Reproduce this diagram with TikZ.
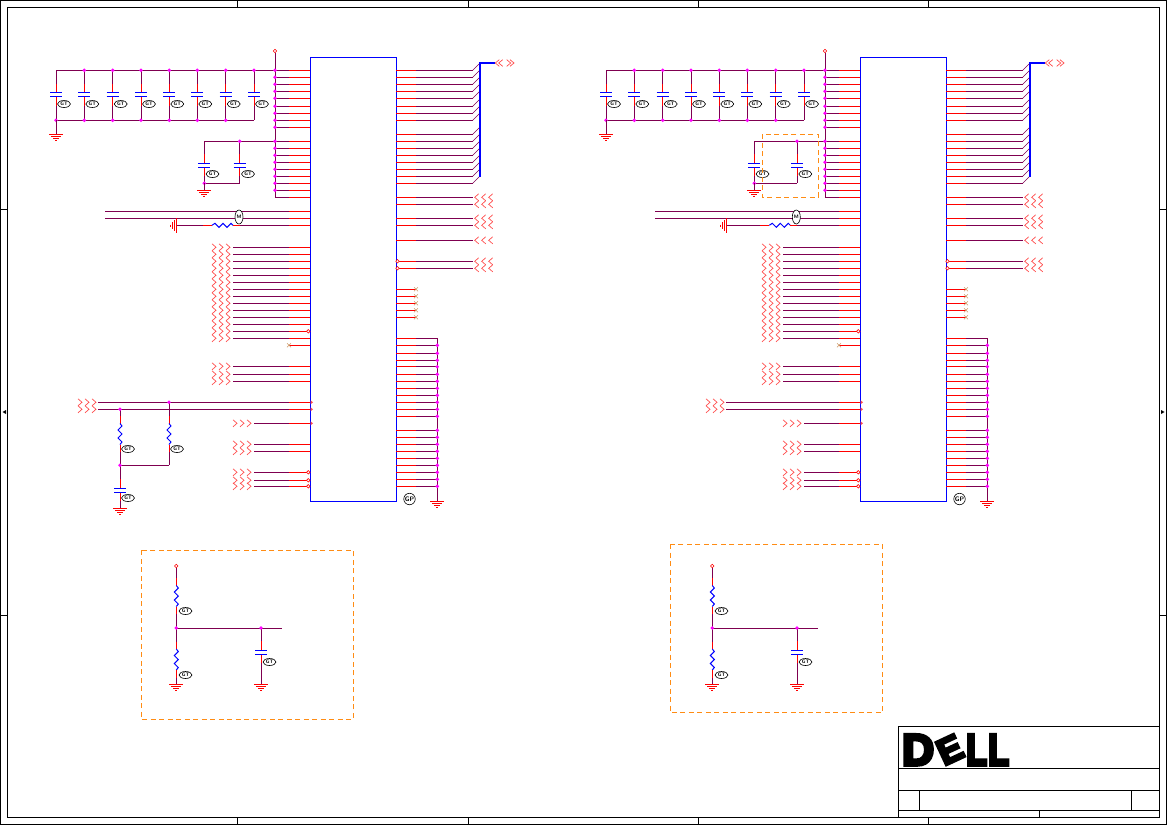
\documentclass[tikz,border=0pt]{standalone}
\usepackage{fontspec}
\newfontfamily\dellfont[FakeBold=8]{Liberation Sans Bold}
\usetikzlibrary{positioning,calc,shapes.geometric}
\definecolor{netPurple}{HTML}{7F0050}
\definecolor{dotPink}{HTML}{FF00FF}
\definecolor{boxOrange}{HTML}{FF8C14}
\tikzset{
        % Wires
        wire/.style={netPurple, line width=1pt},
        stub/.style={red, line width=1pt},
        part/.style={blue, line width=1pt},
        busline/.style={blue, line width=2.2pt},
        chevron/.style={red!70, line width=0.7pt},
        frame/.style={black, line width=1pt},
        % Parts
        chip/.style={rectangle, draw=blue, line width=1pt, inner sep=0pt, outer sep=0pt, minimum width=86pt, minimum height=444pt},
        blob/.style={ellipse, draw=black, fill=white, line width=0.6pt, inner sep=0pt, minimum width=13pt, minimum height=7pt, font=\fontsize{5}{5}\sffamily\bfseries},
        tallblob/.style={blob, minimum width=8pt, minimum height=14pt},
        gpmark/.style={circle, draw=black, fill=white, line width=0.6pt, inner sep=0pt, minimum size=11.5pt, font=\fontsize{6.5}{7}\sffamily\bfseries},
        openpin/.style={circle, draw=red, fill=white, line width=0.6pt, inner sep=0pt, minimum size=3.5pt},
        noconn/.style={draw=brown!80, line width=0.6pt},
        dashbox/.style={boxOrange, line width=1pt, dash pattern=on 5pt off 3.5pt},
        dellletter/.style={inner sep=0pt, font=\fontsize{44}{44}\dellfont},
        dellnarrow/.style={dellletter, xscale=0.78, transform shape},
        delltilt/.style={inner sep=0pt, font=\fontsize{36}{36}\dellfont, rotate=25}
}
% pin dot
\newcommand{\pindot}[2]{\fill[dotPink] (#1,#2) circle (1.9);}
% ground, top centre at x,y
\newcommand{\gnd}[2]{
    \draw[stub] ({#1-7},#2) -- ({#1+7},#2);
    \draw[stub] ({#1-5},{#2+2}) -- ({#1+5},{#2+2});
    \draw[stub] ({#1-3},{#2+4}) -- ({#1+3},{#2+4});
    \draw[stub] ({#1-1},{#2+6}) -- ({#1+1},{#2+6});
}
% capacitor: x, top, middle, bottom
\newcommand{\capv}[4]{
    \draw[wire] (#1,#2) -- (#1,{#3-11});
    \draw[stub] (#1,{#3-11}) -- (#1,{#3-2});
    \draw[stub] (#1,{#3+2}) -- (#1,{#3+11});
    \draw[wire] (#1,{#3+11}) -- (#1,#4);
    \draw[part] ({#1-6},{#3-2}) -- ({#1+6},{#3-2});
    \draw[part] ({#1-6},{#3+2}) -- ({#1+6},{#3+2});
}
% resistor: x, top, middle, bottom
\newcommand{\resv}[4]{
    \draw[wire] (#1,#2) -- (#1,{#3-18});
    \draw[stub] (#1,{#3-18}) -- (#1,{#3-10.5});
    \draw[part] (#1,{#3-10.5}) -- ({#1+2},{#3-8}) -- ({#1-2},{#3-4}) -- ({#1+2},{#3}) -- ({#1-2},{#3+4}) -- ({#1+2},{#3+8}) -- (#1,{#3+10.5});
    \draw[stub] (#1,{#3+10.5}) -- (#1,{#3+18});
    \draw[wire] (#1,{#3+18}) -- (#1,#4);
}
% three chevrons, first x, y, direction (+1 right, -1 left)
\newcommand{\chevs}[3]{
    \foreach \k in {0,1,2} {
        \draw[chevron] ({#1+7*\k-2*#3},{#2-3.5}) -- ({#1+7*\k+2*#3},#2) -- ({#1+7*\k-2*#3},{#2+3.5});
    }
}
% one half of the sheet: prefix, shift of second cap, start of the two long nets
\newcommand{\sheethalf}[3]{
    \node[chip] (#1chip) at (353,279) {};
    % supply rail
    \node[openpin] (#1vcc) at (275,51) {};
    \draw[wire] (#1vcc) -- (275,197.3);
    \foreach \y in {70.3,77.3,84.3,91.3,98.3,106.3,113.3,120.3,127.3,141.3,148.3,155.3,162.3,169.3,176.3,183.3,190.3,197.3} {
        \draw[wire] (275,\y) -- (289,\y);
        \draw[stub] (289,\y) -- (#1chip.west |- 0,\y);
    }
    % decoupling row
    \draw[wire] (56,70.3) -- (275,70.3);
    \draw[wire] (56,120.3) -- (254,120.3);
    \foreach \x in {56,84.3,112.7,141,169.3,197.3,225.7,254} {
        \capv{\x}{70.3}{94.7}{120.3}
        \node[blob] (#1c\x) at ({\x+8},104) {GT};
    }
    \foreach \x in {84.3,112.7,141,169.3,197.3,225.7,254} {
        \pindot{\x}{70.3}
    }
    \foreach \x in {56,84.3,112.7,141,169.3,197.3,225.7} {
        \pindot{\x}{120.3}
    }
    \draw[wire] (56,120.3) -- (56,134);
    \gnd{56}{134}
    % pair of caps
    \draw[wire] (204.3,141.3) -- (275,141.3);
    \draw[wire] (204.3,183.3) -- ({239.7+#2},183.3);
    \capv{204.3}{141.3}{165.3}{183.3}
    \capv{239.7+#2}{141.3}{165.3}{183.3}
    \pindot{239.7+#2}{141.3}
    \pindot{204.3}{183.3}
    \foreach \y in {70.3,77.3,84.3,91.3,98.3,106.3,113.3,120.3,127.3,141.3,148.3,155.3,162.3,169.3,176.3,183.3,190.3} {
        \pindot{275}{\y}
    }
    \draw[wire] (204.3,183.3) -- (204.3,190);
    \gnd{204.3}{190}
    \node[blob] (#1cl) at (212.5,174) {GT};
    \node[blob] (#1cr) at ({248+#2},174) {GT};
    % long nets
    \foreach \y in {211.3,218.3} {
        \draw[wire] (105,\y) -- (289,\y);
        \draw[stub] (289,\y) -- (#1chip.west |- 0,\y);
    }
    \node[tallblob] (#1lb) at ({239+#2},217) {M};
    % resistor to ground
    \draw[wire] (176.7,225.3) -- ({203+#2},225.3);
    \draw[stub] ({203+#2},225.3) -- ({212+#2},225.3);
    \draw[part] ({212+#2},225.3) -- ({215+#2},223.3) -- ({219+#2},227.3) -- ({223+#2},223.3) -- ({227+#2},227.3) -- ({231+#2},223.3) -- ({233+#2},225.3);
    \draw[stub] ({233+#2},225.3) -- ({240+#2},225.3);
    \draw[wire] ({240+#2},225.3) -- (289,225.3);
    \draw[stub] (289,225.3) -- (#1chip.west |- 0,225.3);
    \draw[stub] (176.7,218) -- (176.7,233);
    \draw[stub] (174.7,220) -- (174.7,231);
    \draw[stub] (172.7,222) -- (172.7,229);
    \draw[stub] (170.7,224.5) -- (170.7,226.5);
    % left inputs
    \foreach \y in {247.3,254.3,261.3,268.3,275.3,282.3,289.3,296.3,303.3,310.3,317.3,324.3,331.3,338.3,366.3,374.3,381.3} {
        \draw[wire] (233,\y) -- (289,\y);
        \draw[stub] (289,\y) -- (#1chip.west |- 0,\y);
        \chevs{214}{\y}{1}
    }
    \node[openpin] (#1pa) at (308.3,331.3) {};
    % unused left pin
    \draw[stub] (289,345.3) -- (#1chip.west |- 0,345.3);
    \draw[noconn] (287,343.3) -- (291,347.3) (287,347.3) -- (291,343.3);
    \foreach \y in {402.3,409.3} {
        \draw[wire] (#3,\y) -- (289,\y);
        \draw[stub] (289,\y) -- (#1chip.west |- 0,\y);
        \chevs{#3-18}{\y}{1}
        \fill[red!70] (310.5,{\y-2}) -- (313,\y) -- (310.5,{\y+2}) -- cycle;
    }
    \draw[wire] (254,423.3) -- (289,423.3);
    \draw[stub] (289,423.3) -- (#1chip.west |- 0,423.3);
    \fill[red!70] (310.5,421.3) -- (313,423.3) -- (310.5,425.3) -- cycle;
    \chevs{235}{423.3}{1}
    \foreach \y in {444.3,451.3,472.3,480.3,486.3} {
        \draw[wire] (254,\y) -- (289,\y);
        \draw[stub] (289,\y) -- (#1chip.west |- 0,\y);
        \chevs{235}{\y}{1}
    }
    \node[openpin] (#1pb) at (308.3,472.3) {};
    \node[openpin] (#1pc) at (308.3,480.3) {};
    \node[openpin] (#1pd) at (308.3,486.3) {};
    % right bus
    \foreach \y in {70.3,77.3,84.3,91.3,98.3,106.3,113.3,120.3,134.3,141.3,148.3,155.3,162.3,169.3,176.3,183.3} {
        \draw[stub] (#1chip.east |- 0,\y) -- (416,\y);
        \draw[wire] (416,\y) -- (472.7,\y);
        \draw[wire, line width=0.6pt] (472.7,\y) -- (479.7,\y-7);
    }
    \draw[busline] (480,176.7) -- (480,63) -- (495,63);
    \foreach \x/\d in {497.3/-1,500.7/-1,508.7/1,512/1} {
        \draw[chevron] ({\x-2*\d},59.7) -- ({\x+2*\d},63) -- ({\x-2*\d},66.3);
    }
    % right signals
    \foreach \y in {197.3,204.3,218.3,225.3,240.3,261.3,268.3} {
        \draw[stub] (#1chip.east |- 0,\y) -- (416,\y);
        \draw[wire] (416,\y) -- (472.7,\y);
        \chevs{476.7}{\y}{-1}
    }
    \node[openpin] (#1pe) at (397.5,261.3) {};
    \node[openpin] (#1pf) at (397.5,268.3) {};
    % unused right pins
    \foreach \y in {289.3,296.3,303.3,310.3,317.3} {
        \draw[stub] (#1chip.east |- 0,\y) -- (416,\y);
        \draw[noconn] (414,{\y-2}) -- (418,{\y+2}) (414,{\y+2}) -- (418,{\y-2});
    }
    % ground pins
    \foreach \y in {338.3,345.3,353.3,360.3,366.7,374.3,381.3,388.3,395.3,402.3,409.3,416.3,430.3,437.3,444.3,451.3,458.3,465.3,472.3,479.3,486.3} {
        \draw[stub] (#1chip.east |- 0,\y) -- (416,\y);
        \draw[wire] (416,\y) -- (437.3,\y);
    }
    \draw[wire] (437.3,338.3) -- (437.3,501.7);
    \foreach \y in {345.3,353.3,360.3,366.7,374.3,381.3,388.3,395.3,402.3,409.3,416.3,430.3,437.3,444.3,451.3,458.3,465.3,472.3,479.3,486.3} {
        \pindot{437.3}{\y}
    }
    \gnd{437.3}{501.7}
    \node[gpmark] (#1gp) at (409.5,499) {GP};
}
% divider: input node, resistors, cap, out
\newcommand{\divider}[1]{
    \node[openpin] (#1vin) at (176.3,566) {};
    \resv{176.3}{568}{596}{628}
    \resv{176.3}{628}{659.5}{684.3}
    \draw[wire] (176.3,628.3) -- (282.3,628.3);
    \capv{261}{628.3}{652.3}{684.3}
    \pindot{176.3}{628}
    \pindot{261}{628}
    \gnd{176.3}{684.3}
    \gnd{261}{684.3}
    \node[blob] (#1ra) at (185.5,611) {GT};
    \node[blob] (#1rb) at (185.5,675) {GT};
    \node[blob] (#1cc) at (269.5,662) {GT};
}
\begin{document}
\begin{tikzpicture}[x=1pt, y=-1pt]
    \useasboundingbox (0,0) rectangle (1167,825);
    % sheet frame
    \draw[frame] (0.5,0.5) rectangle (1166.5,824.5);
    \draw[frame] (7.3,7.3) rectangle (1159.3,817.3);
    \foreach \x in {237.5,468,698,928.3} {
        \draw[frame] (\x,0.5) -- (\x,7.3);
        \draw[frame] (\x,817.3) -- (\x,824.5);
    }
    \foreach \y in {209,615} {
        \draw[frame] (0.5,\y) -- (7.3,\y);
        \draw[frame] (1159.3,\y) -- (1166.5,\y);
    }
    \fill[black] (2.5,412) -- (6,410) -- (6,414) -- cycle;
    \fill[black] (1164.5,412) -- (1161,410) -- (1161,414) -- cycle;

    % left half
    \sheethalf{l}{0}{98}
    \resv{120}{409.3}{434}{465.3}
    \resv{169}{402.3}{434}{465.3}
    \draw[wire] (120,465.3) -- (169,465.3);
    \capv{120}{465.3}{490.3}{508.3}
    \gnd{120}{508.3}
    \pindot{169}{402.3}
    \pindot{120}{409.3}
    \pindot{120}{465.3}
    \node[blob] (rsa) at (128,449) {GT};
    \node[blob] (rsb) at (177,449) {GT};
    \node[blob] (csa) at (128,498) {GT};

    % right half
    \begin{scope}[xshift=550pt]
        \sheethalf{r}{7.3}{176}
    \end{scope}
    \draw[dashbox] (762.3,134.3) rectangle (818.3,197.3);

    % dividers
    \divider{a}
    \begin{scope}[xshift=536pt]
        \divider{b}
    \end{scope}
    \draw[dashbox] (141.3,550.3) rectangle (353.3,719.3);
    \draw[dashbox] (670.3,544) rectangle (882.3,712.5);

    % title block
    \draw[frame] (898.7,817.3) -- (898.7,726.7) -- (1159.3,726.7);
    \draw[frame] (898.7,768.3) -- (1159.3,768.3);
    \draw[frame] (898.7,790) -- (1159.3,790);
    \draw[frame] (898.7,810) -- (1159.3,810);
    \draw[frame] (919.3,790) -- (919.3,810);
    \draw[frame] (1131.3,790) -- (1131.3,810);
    \draw[frame] (1039.7,810) -- (1039.7,817.3);
    \node[dellletter, anchor=base west] (dellD) at (902,765) {D};
    \node[delltilt, anchor=base west] (dellE) at (944,766) {E};
    \node[dellnarrow, anchor=base west] (dellLa) at (966,765) {L};
    \node[dellnarrow, anchor=base west] (dellLb) at (988,765) {L};
\end{tikzpicture}
\end{document}
